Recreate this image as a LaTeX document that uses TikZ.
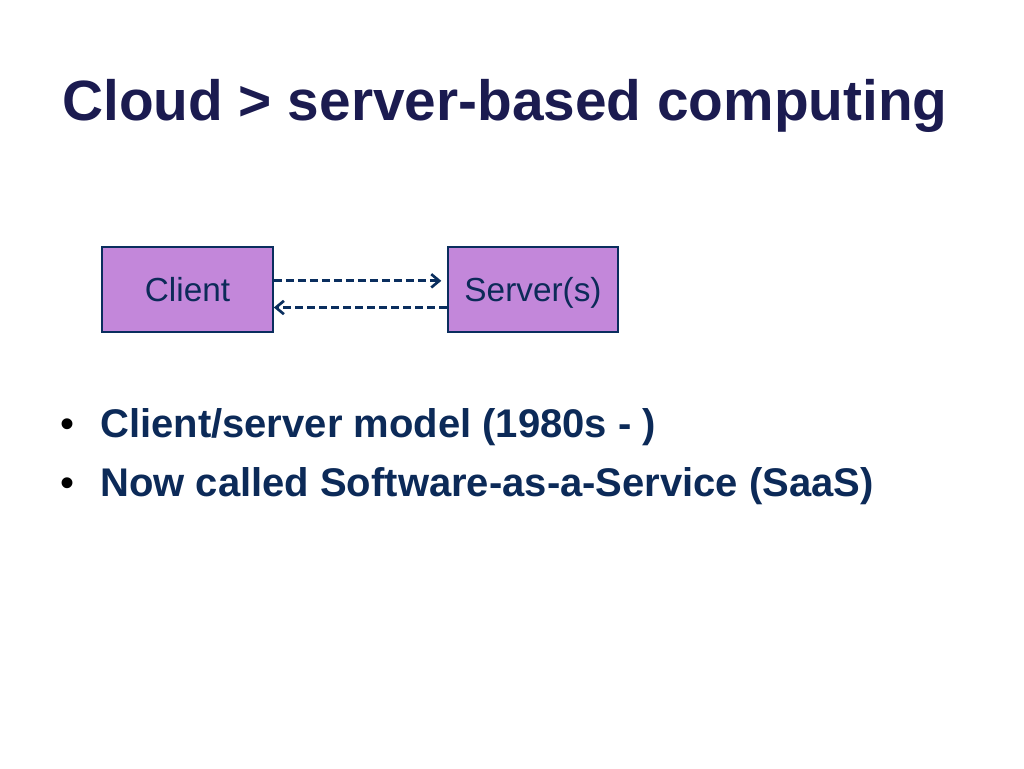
\documentclass[tikz,border=0pt]{standalone}
\usepackage{fontspec}
\setmainfont{Liberation Sans}
\definecolor{titleblue}{HTML}{1B1B50}
\definecolor{textblue}{HTML}{0C2A58}
\definecolor{boxfill}{HTML}{C387DA}
\definecolor{boxline}{HTML}{0A2E5E}
\tikzset{
  boxnode/.style={draw=boxline, line width=1.5pt, fill=boxfill, minimum width=128pt,
    minimum height=63.5pt, inner sep=0pt, text height=18pt, text depth=0pt,
    text=textblue, font=\fontsize{25}{30}\selectfont},
  link/.style={draw=boxline, line width=2.1pt, dash pattern=on 6pt off 3pt,
    -{Straight Barb[length=6pt,width=10pt,line width=2pt]}},
  bullettext/.style={anchor=base west, inner sep=0pt, text=textblue,
    font=\fontsize{30}{36}\selectfont\bfseries},
  dot/.style={anchor=base west, inner sep=0pt, font=\fontsize{30}{36}\selectfont}
}
\usetikzlibrary{arrows.meta}
\begin{document}
\begin{tikzpicture}[x=0.75pt, y=-0.75pt]
  \useasboundingbox (0,0) rectangle (1024,768);
  \node[anchor=base west, inner sep=0pt, text=titleblue,
    font=\fontsize{42.6}{50}\selectfont\bfseries] (title) at (62,120) {Cloud > server-based computing};
  \draw
    (187.5,289.5) node[boxnode] (client) {Client}
    (533,289.5) node[boxnode] (server) {Server(s)};
  \begin{scope}[link]
    \draw ([yshift=6.5pt]client.east) to ([yshift=6.5pt,xshift=-4pt]server.west);
    \draw ([yshift=-13.5pt]server.west) to ([yshift=-13.5pt]client.east);
  \end{scope}
  \draw
    (60,437) node[dot] (dot1) {•}
    (100,437) node[bullettext] (item1) {Client/server model (1980s - )}
    (60,496) node[dot] (dot2) {•}
    (100,496) node[bullettext] (item2) {Now called Software-as-a-Service (SaaS)};
\end{tikzpicture}
\end{document}
